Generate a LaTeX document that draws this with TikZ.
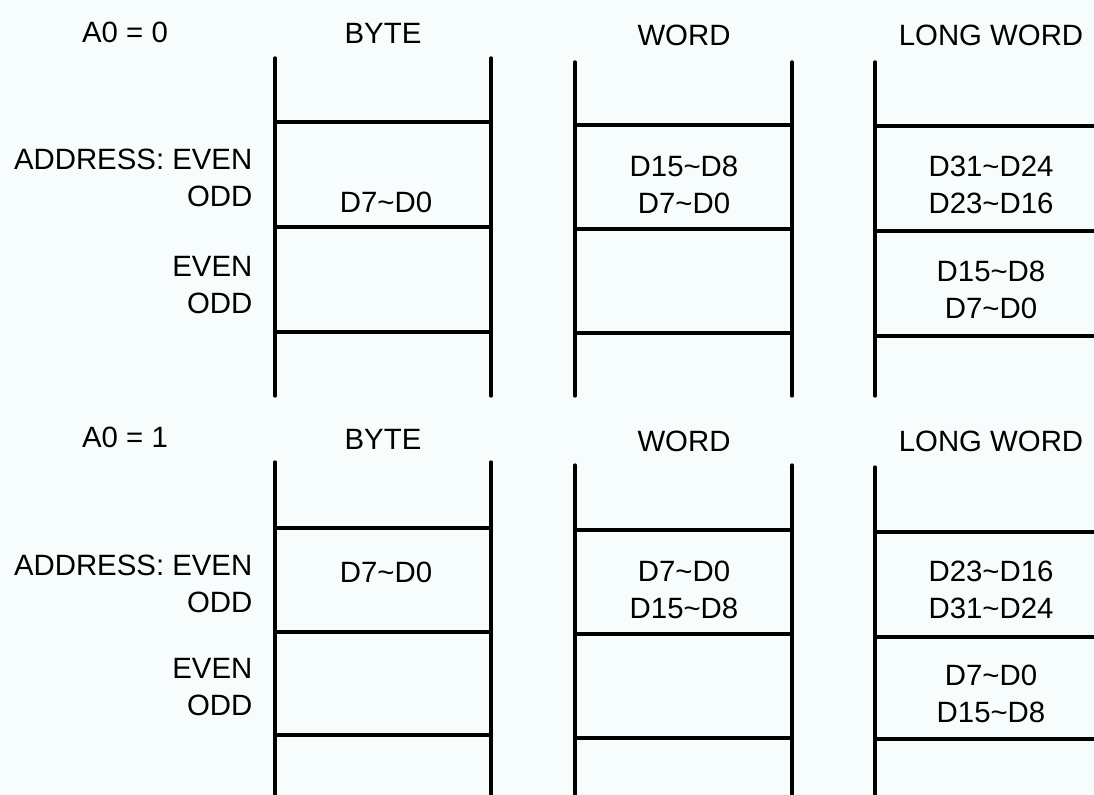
\documentclass[tikz,border=0pt]{standalone}
\usepackage{fontspec}
\setmainfont{Liberation Sans}
\usepackage{xcolor}
\usetikzlibrary{positioning}
\definecolor{paper}{RGB}{247,252,252}
\newcommand{\rng}[2]{D#1\textasciitilde D#2}

\tikzset{
    rail/.style={line width=0.95pt, line cap=round},
    lbl/.style={font=\fontsize{8.35}{10.4}\selectfont, inner sep=0pt},
    lblr/.style={lbl, anchor=east, align=right},
    cellt/.style={lbl, align=center}
}

\begin{document}
\begin{tikzpicture}[x=0.01cm,y=-0.01cm]
    \fill[paper] (0,0) rectangle (1094,795);
    \useasboundingbox (0,0) rectangle (1094,795);

    % A0 = 0
    \node[lbl] (aeven) at (125,32) {A0 = 0};
    \node[lbl] (byteA) at (383,33) {BYTE};
    \node[lbl] (wordA) at (684,35) {WORD};
    \node[lbl] (longA) at (991,35) {LONG WORD};

    \node[lblr] (adrA1) at (253,178) {ADDRESS: EVEN\\ODD};
    \node[lblr] (adrA2) at (253,285) {EVEN\\ODD};

    % columns: left, right, top, bottom, rows
    \foreach \xl/\xr/\yt/\yb/\ha/\hb/\hc in {
        275/491/58/396/122/227/332,
        575/792/62/396/125/229/333,
        875/1094/62/396/126/231/336} {
        \draw[rail] (\xl,\yt) -- (\xl,\yb);
        \ifnum\xr<1000 \draw[rail] (\xr,\yt) -- (\xr,\yb); \fi
        \draw[rail] (\xl,\ha) -- (\xr,\ha);
        \draw[rail] (\xl,\hb) -- (\xr,\hb);
        \draw[rail] (\xl,\hc) -- (\xr,\hc);
    }

    \node[cellt] (byteA1) at (386,202) {\rng{7}{0}};
    \node[cellt] (wordA1) at (684,185) {\rng{15}{8}\\\rng{7}{0}};
    \node[cellt] (longA1) at (991,185) {\rng{31}{24}\\\rng{23}{16}};
    \node[cellt] (longA2) at (991,290) {\rng{15}{8}\\\rng{7}{0}};

    % A0 = 1
    \node[lbl] (aodd) at (125,437) {A0 = 1};
    \node[lbl] (byteB) at (383,439) {BYTE};
    \node[lbl] (wordB) at (684,441) {WORD};
    \node[lbl] (longB) at (991,441) {LONG WORD};

    \node[lblr] (adrB1) at (253,584) {ADDRESS: EVEN\\ODD};
    \node[lblr] (adrB2) at (253,687) {EVEN\\ODD};

    \foreach \xl/\xr/\yt/\yb/\ha/\hb/\hc in {
        275/491/462/800/528/632/735,
        575/792/465/800/530/634/738,
        875/1094/467/800/532/637/739} {
        \draw[rail] (\xl,\yt) -- (\xl,\yb);
        \ifnum\xr<1000 \draw[rail] (\xr,\yt) -- (\xr,\yb); \fi
        \draw[rail] (\xl,\ha) -- (\xr,\ha);
        \draw[rail] (\xl,\hb) -- (\xr,\hb);
        \draw[rail] (\xl,\hc) -- (\xr,\hc);
    }

    \node[cellt] (byteB1) at (386,572) {\rng{7}{0}};
    \node[cellt] (wordB1) at (684,590) {\rng{7}{0}\\\rng{15}{8}};
    \node[cellt] (longB1) at (991,590) {\rng{23}{16}\\\rng{31}{24}};
    \node[cellt] (longB2) at (991,694) {\rng{7}{0}\\\rng{15}{8}};
\end{tikzpicture}
\end{document}
